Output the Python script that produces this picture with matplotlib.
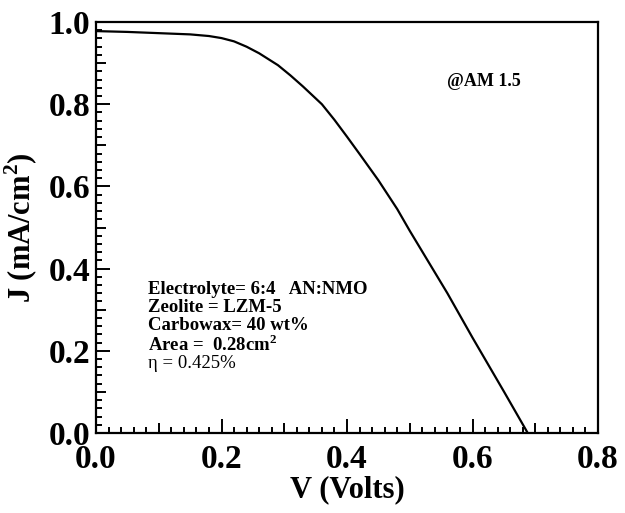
import matplotlib
matplotlib.use("Agg")
import matplotlib.pyplot as plt
from matplotlib.ticker import MultipleLocator, FuncFormatter

# J-V curve
volts = [0.0, 0.05, 0.10, 0.15, 0.18, 0.20, 0.22, 0.24, 0.26, 0.29, 0.31, 0.33, 0.36, 0.38,
         0.40, 0.42, 0.45, 0.48, 0.50, 0.53, 0.56, 0.60, 0.65, 0.688]
current = [0.978, 0.976, 0.973, 0.970, 0.966, 0.961, 0.953, 0.940, 0.924, 0.895, 0.870, 0.843,
           0.800, 0.762, 0.721, 0.679, 0.615, 0.545, 0.492, 0.416, 0.340, 0.232, 0.101, 0.0]

info_lines = ["Electrolyte= 6:4   AN:NMO", "Zeolite = LZM-5", "Carbowax= 40 wt%",
              r"Area =  0.28cm$^{\mathbf{2}}$", "\u03b7 = 0.425%"]
info_y = [0.348, 0.306, 0.262, 0.216, 0.170]

plt.rcParams["font.family"] = "Liberation Serif"
plt.rcParams["font.weight"] = "bold"
plt.rcParams["mathtext.fontset"] = "custom"
plt.rcParams["mathtext.rm"] = "Liberation Serif:bold"
plt.rcParams["mathtext.bf"] = "Liberation Serif:bold"

fig = plt.figure(figsize=(6.25, 5.13), dpi=100)
ax = fig.add_axes([0.1536, 0.156, 0.8032, 0.801])

ax.plot(volts, current, color="black", lw=1.6)

ax.set_xlim(0, 0.8)
ax.set_ylim(0, 1.0)

for s in ax.spines.values():
    s.set_linewidth(1.6)

ax.xaxis.set_major_locator(MultipleLocator(0.1))
ax.yaxis.set_major_locator(MultipleLocator(0.1))
ax.xaxis.set_minor_locator(MultipleLocator(0.02))
ax.yaxis.set_minor_locator(MultipleLocator(0.02))

fmt = FuncFormatter(lambda v, p: "%.1f" % v if round(v * 10) % 2 == 0 else "")
ax.xaxis.set_major_formatter(fmt)
ax.yaxis.set_major_formatter(fmt)

ax.tick_params(which="both", direction="in", top=False, right=False, width=1.4, labelsize=24)
ax.tick_params(which="major", length=7)
ax.tick_params(which="minor", length=4)
ax.tick_params(axis="x", which="major", pad=8)
ax.tick_params(axis="y", which="major", pad=4)

# longer ticks at the labelled positions
fig.canvas.draw()
for axis in (ax.xaxis, ax.yaxis):
    for t in axis.get_major_ticks():
        v = t.get_loc()
        if round(v * 10) % 2 == 0:
            t.tick1line.set_markersize(10)

for lab in ax.get_xticklabels() + ax.get_yticklabels():
    lab.set_fontweight("bold")

ax.set_xlabel("V (Volts)", fontsize=22, fontweight="bold", labelpad=0)
ax.set_ylabel(r"J (mA/cm$^{\mathbf{2}}$)", fontsize=22, fontweight="bold", labelpad=6)

ax.text(0.559, 0.855, "@AM 1.5", fontsize=13, fontweight="bold", va="center")

for i, (line, y) in enumerate(zip(info_lines, info_y)):
    w = "normal" if i == len(info_lines) - 1 else "bold"
    ax.text(0.083, y, line, fontsize=13.5, fontweight=w, va="center")

fig.savefig("out.png", dpi=100)
